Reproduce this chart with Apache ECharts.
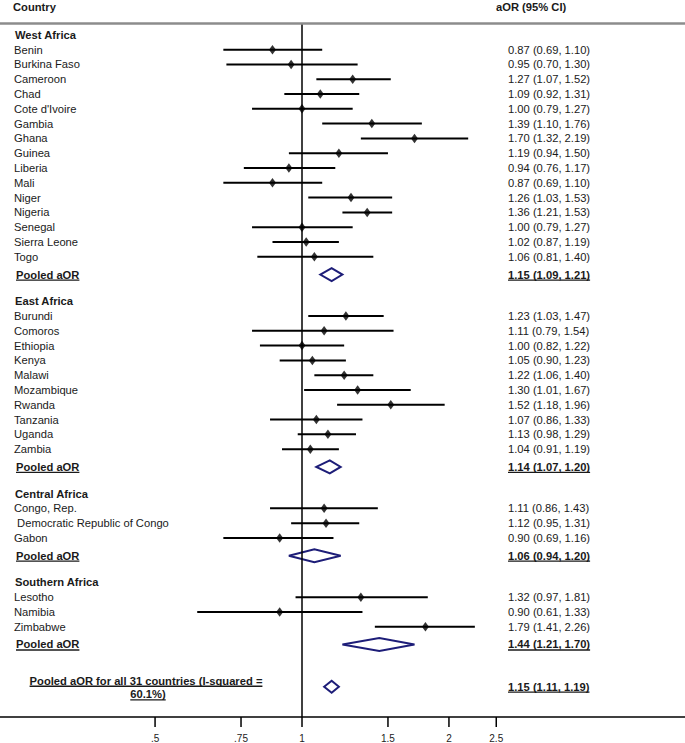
<!DOCTYPE html>
<html><head><meta charset="utf-8">
<script src="https://cdn.jsdelivr.net/npm/echarts@6/dist/echarts.min.js"></script>
<style>html,body{margin:0;padding:0;background:#fff}#chart{width:685px;height:743px}</style>
</head><body><div id="chart"></div>
<script>
// ---------- data ----------
const westCountries = ['Benin','Burkina Faso','Cameroon','Chad',"Cote d'Ivoire",'Gambia','Ghana','Guinea','Liberia','Mali','Niger','Nigeria','Senegal','Sierra Leone','Togo'];
const westAOR  = [0.87,0.95,1.27,1.09,1.00,1.39,1.70,1.19,0.94,0.87,1.26,1.36,1.00,1.02,1.06];
const westLow  = [0.69,0.70,1.07,0.92,0.79,1.10,1.32,0.94,0.76,0.69,1.03,1.21,0.79,0.87,0.81];
const westHigh = [1.10,1.30,1.52,1.31,1.27,1.76,2.19,1.50,1.17,1.10,1.53,1.53,1.27,1.19,1.40];
const westPooled = [1.15,1.09,1.21];

const eastCountries = ['Burundi','Comoros','Ethiopia','Kenya','Malawi','Mozambique','Rwanda','Tanzania','Uganda','Zambia'];
const eastAOR  = [1.23,1.11,1.00,1.05,1.22,1.30,1.52,1.07,1.13,1.04];
const eastLow  = [1.03,0.79,0.82,0.90,1.06,1.01,1.18,0.86,0.98,0.91];
const eastHigh = [1.47,1.54,1.22,1.23,1.40,1.67,1.96,1.33,1.29,1.19];
const eastPooled = [1.14,1.07,1.20];

const centralCountries = ['Congo, Rep.',' Democratic Republic of Congo','Gabon'];
const centralAOR  = [1.11,1.12,0.90];
const centralLow  = [0.86,0.95,0.69];
const centralHigh = [1.43,1.31,1.16];
const centralPooled = [1.06,0.94,1.20];

const southCountries = ['Lesotho','Namibia','Zimbabwe'];
const southAOR  = [1.32,0.90,1.79];
const southLow  = [0.97,0.61,1.41];
const southHigh = [1.81,1.33,2.26];
const southPooled = [1.44,1.21,1.70];

const overallPooled = [1.15,1.11,1.19];
const overallLabel = ['Pooled aOR for all 31 countries (I-squared =','60.1%)'];
const pooledLabel = 'Pooled aOR';
const headerLeft = 'Country';
const headerRight = 'aOR (95% CI)';

const tickValues = [0.5,0.75,1,1.5,2,2.5];
const tickLabels = ['.5','.75','1','1.5','2','2.5'];

// ---------- layout / build ----------
const FONT = 'Arial, "Liberation Sans", sans-serif';
const FS = 11.2;
const NAVY = '#1d1d78';
const TXT = '#1a1a1a';
const Y_MIN = -0.8, Y_MAX = 46.1;

const groups = [
  {name:'West Africa', c:westCountries, e:westAOR, l:westLow, h:westHigh, p:westPooled},
  {name:'East Africa', c:eastCountries, e:eastAOR, l:eastLow, h:eastHigh, p:eastPooled},
  {name:'Central Africa', c:centralCountries, e:centralAOR, l:centralLow, h:centralHigh, p:centralPooled},
  {name:'Southern Africa', c:southCountries, e:southAOR, l:southLow, h:southHigh, p:southPooled}
];
const ciText = (e,l,h) => e.toFixed(2) + ' (' + l.toFixed(2) + ', ' + h.toFixed(2) + ')';

const ciData = [], pointData = [], diamondData = [], texts = [];
let row = 0;
groups.forEach(g => {
  texts.push({row, text:g.name, x:15, bold:true});
  row++;
  g.c.forEach((name,i) => {
    ciData.push([g.l[i], g.h[i], row]);
    pointData.push([g.e[i], row]);
    texts.push({row, text:name, x:14});
    texts.push({row, text:ciText(g.e[i], g.l[i], g.h[i]), x:508});
    row++;
  });
  const pr = row + 0.2;
  diamondData.push([g.p[0], g.p[1], g.p[2], pr, 6.5]);
  texts.push({row:pr, text:pooledLabel, x:16, bold:true, underline:true});
  texts.push({row:pr, text:ciText(g.p[0], g.p[1], g.p[2]), x:508, bold:true, underline:true});
  row += 2;
});
row += 1;
diamondData.push([overallPooled[0], overallPooled[1], overallPooled[2], row + 0.05, 6]);
texts.push({row: row - 0.35, text: overallLabel[0], x:146, align:'center', bold:true, underline:true});
texts.push({row: row + 0.57, text: overallLabel[1], x:148, align:'center', bold:true, underline:true});
texts.push({row: row + 0.05, text: ciText(overallPooled[0], overallPooled[1], overallPooled[2]), x:508, bold:true, underline:true});

const measureCtx = document.createElement('canvas').getContext('2d');
function textWidth(t, bold, size) {
  measureCtx.font = (bold ? 'bold ' : '') + size + 'px ' + FONT;
  return measureCtx.measureText(t).width;
}

const chart = echarts.init(document.getElementById('chart'), null, {renderer:'svg'});
const option = {
  animation: false,
  backgroundColor: '#fff',
  grid: {left:0, right:0, top:23, bottom:26, containLabel:false},
  xAxis: [
    {type:'log', logBase:10, min:0.2406, max:6.09, position:'bottom',
     axisLine:{show:true, onZero:false, lineStyle:{color:'#000', width:1.5}},
     axisTick:{show:false}, axisLabel:{show:false}, splitLine:{show:false}}
  ],
  yAxis: {type:'value', inverse:true, min:Y_MIN, max:Y_MAX, show:false},
  graphic: [
    {type:'text', left:13, top:1, style:{text:headerLeft, font:'bold 11.2px ' + FONT, fill:TXT}},
    {type:'text', left:496, top:1, style:{text:headerRight, font:'bold 11.2px ' + FONT, fill:TXT}}
  ],
  series: [
    {
      type:'custom', name:'CI', coordinateSystem:'cartesian2d', clip:false,
      encode:{x:[0,1], y:2},
      data: ciData,
      renderItem: (params, api) => {
        const a = api.coord([api.value(0), api.value(2)]);
        const b = api.coord([api.value(1), api.value(2)]);
        return {type:'line', shape:{x1:a[0], y1:a[1], x2:b[0], y2:b[1]}, style:{stroke:'#000', lineWidth:2}};
      }
    },
    {
      type:'scatter', name:'aOR', data: pointData, clip:false,
      symbol:'diamond', symbolSize:[7,9.5], itemStyle:{color:'#000'}, z:3,
      markLine: {silent:true, symbol:['none','none'], label:{show:false},
        lineStyle:{color:'#000', width:1.5, type:'solid'},
        data:[
          {xAxis:1},
          {yAxis:Y_MIN, lineStyle:{color:'#8c8c8c', width:2.5, type:'solid'}}
        ]}
    },
    {
      type:'custom', name:'Pooled', coordinateSystem:'cartesian2d', clip:false,
      encode:{x:[0,1,2], y:3},
      data: diamondData,
      renderItem: (params, api) => {
        const r = api.value(3), hh = api.value(4);
        const pe = api.coord([api.value(0), r]);
        const pl = api.coord([api.value(1), r]);
        const ph = api.coord([api.value(2), r]);
        return {type:'polygon', shape:{points:[[pl[0],pe[1]],[pe[0],pe[1]-hh],[ph[0],pe[1]],[pe[0],pe[1]+hh]]},
          style:{stroke:NAVY, lineWidth:2, fill:'#fff'}, z2:5};
      }
    },
    {
      type:'custom', name:'Text', coordinateSystem:'cartesian2d', clip:false, silent:true,
      encode:{x:0, y:1},
      data: texts.map(t => [1, t.row]),
      renderItem: (params, api) => {
        const t = texts[params.dataIndex];
        const y = api.coord([1, api.value(1)])[1];
        const align = t.align || 'left';
        const children = [{
          type:'text', x:t.x, y:y,
          style:{text:t.text, font:(t.bold ? 'bold ' : '') + FS + 'px ' + FONT, fill:TXT,
            align:align, verticalAlign:'middle', textAlign:align, textVerticalAlign:'middle'}
        }];
        if (t.underline) {
          const w = textWidth(t.text, t.bold, FS);
          const x0 = align === 'center' ? t.x - w/2 : t.x;
          children.push({type:'line', shape:{x1:x0, y1:y+5.5, x2:x0+w, y2:y+5.5}, style:{stroke:TXT, lineWidth:1.3}});
        }
        return {type:'group', children};
      }
    },
    {
      type:'custom', name:'Ticks', coordinateSystem:'cartesian2d', clip:false, silent:true,
      encode:{x:0, y:1},
      data: tickValues.map(v => [v, Y_MAX]),
      renderItem: (params, api) => {
        const p = api.coord([api.value(0), api.value(1)]);
        return {type:'group', children:[
          {type:'line', shape:{x1:p[0], y1:p[1], x2:p[0], y2:p[1]+10}, style:{stroke:'#000', lineWidth:1.5}},
          {type:'text', x:p[0], y:p[1]+21, style:{text:tickLabels[params.dataIndex], font:'10px ' + FONT, fill:'#222',
            align:'center', verticalAlign:'middle', textAlign:'center', textVerticalAlign:'middle'}}
        ]};
      }
    }
  ]
};
chart.setOption(option);
</script></body></html>
